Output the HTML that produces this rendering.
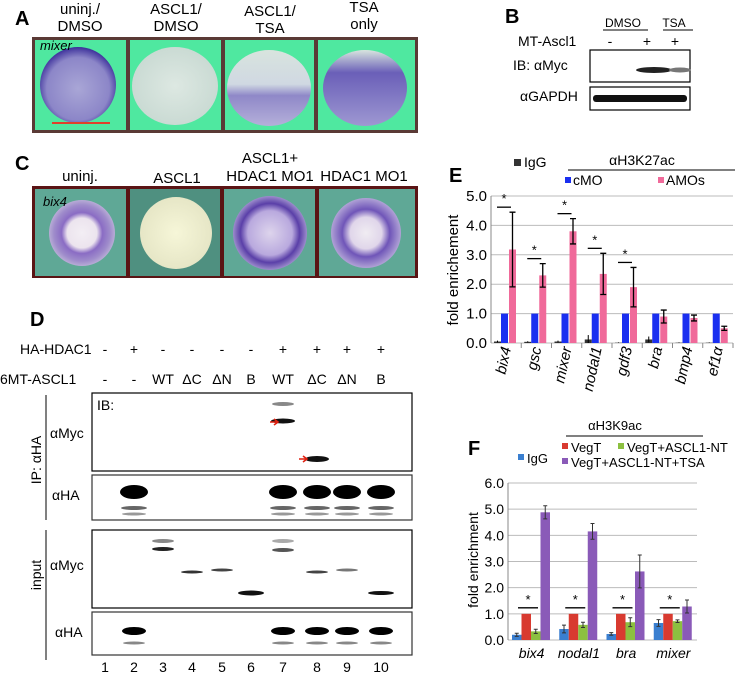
<!DOCTYPE html>
<html><head><meta charset="utf-8"><style>
body{margin:0;background:#fff;}
svg{display:block;font-family:"Liberation Sans",Arial,sans-serif;}
</style></head><body>
<svg id="fig" width="742" height="677" viewBox="0 0 742 677" xmlns="http://www.w3.org/2000/svg">
<defs>
<radialGradient id="embA1" cx="50%" cy="55%" r="55%"><stop offset="0" stop-color="#a9a6d6"/><stop offset="0.75" stop-color="#8c86c8"/><stop offset="1" stop-color="#3b2f9a"/></radialGradient>
<radialGradient id="embA2" cx="50%" cy="50%" r="55%"><stop offset="0" stop-color="#dde8e2"/><stop offset="1" stop-color="#c8d9d2"/></radialGradient>
<linearGradient id="embA3" x1="0" y1="0" x2="0" y2="1"><stop offset="0" stop-color="#d8e4de"/><stop offset="0.45" stop-color="#d0d8e2"/><stop offset="0.6" stop-color="#8f88c8"/><stop offset="1" stop-color="#b5b0da"/></linearGradient>
<linearGradient id="embA4" x1="0" y1="0" x2="0" y2="1"><stop offset="0" stop-color="#d8e4de"/><stop offset="0.3" stop-color="#6a5fb8"/><stop offset="1" stop-color="#9e98d2"/></linearGradient>
<radialGradient id="embC1" cx="50%" cy="50%" r="50%"><stop offset="0" stop-color="#f3eef4"/><stop offset="0.45" stop-color="#ece4ee"/><stop offset="0.62" stop-color="#8a6cc4"/><stop offset="0.85" stop-color="#9f8ccb"/><stop offset="1" stop-color="#b8acd6"/></radialGradient>
<radialGradient id="embC2" cx="50%" cy="50%" r="50%"><stop offset="0" stop-color="#f6f6d8"/><stop offset="1" stop-color="#e6e6c6"/></radialGradient>
<radialGradient id="embC3" cx="50%" cy="50%" r="50%"><stop offset="0" stop-color="#ddd4ec"/><stop offset="0.6" stop-color="#b9a9de"/><stop offset="0.8" stop-color="#5a3fa8"/><stop offset="1" stop-color="#9c8ccc"/></radialGradient>
<radialGradient id="embC4" cx="50%" cy="50%" r="50%"><stop offset="0" stop-color="#f0ecf2"/><stop offset="0.45" stop-color="#e0d6ea"/><stop offset="0.68" stop-color="#6f55b8"/><stop offset="1" stop-color="#b0a2d6"/></radialGradient>
</defs>

<!-- Panel A -->
<g>
<text x="15" y="25" font-size="20" font-weight="bold">A</text>
<g font-size="15" text-anchor="middle">
<text x="80" y="14">uninj./</text><text x="80" y="31">DMSO</text>
<text x="176" y="14">ASCL1/</text><text x="176" y="31">DMSO</text>
<text x="270" y="16">ASCL1/</text><text x="270" y="33">TSA</text>
<text x="364" y="12">TSA</text><text x="364" y="29">only</text>
</g>
<rect x="32" y="37" width="386" height="96" fill="#5a3a35"/>
<rect x="35" y="40" width="91" height="90" fill="#4fe8a0"/>
<rect x="130" y="40" width="91" height="90" fill="#4fe8a0"/>
<rect x="225" y="40" width="89" height="90" fill="#4fe8a0"/>
<rect x="318" y="40" width="97" height="90" fill="#4fe8a0"/>
<ellipse cx="78" cy="85" rx="38" ry="38" fill="url(#embA1)"/>
<ellipse cx="175" cy="86" rx="43" ry="39" fill="url(#embA2)"/>
<ellipse cx="269" cy="88" rx="42" ry="38" fill="url(#embA3)"/>
<ellipse cx="365" cy="88" rx="42" ry="38" fill="url(#embA4)"/>
<text x="40" y="50" font-size="13" font-style="italic">mixer</text>
<line x1="52" y1="123" x2="110" y2="123" stroke="#e0402a" stroke-width="2"/>
</g>

<!-- Panel B -->
<g>
<text x="505" y="23" font-size="20" font-weight="bold">B</text>
<text x="623" y="27" font-size="12" text-anchor="middle">DMSO</text>
<line x1="603" y1="30" x2="648" y2="30" stroke="#000"/>
<text x="674" y="27" font-size="12" text-anchor="middle">TSA</text>
<line x1="663" y1="30" x2="693" y2="30" stroke="#000"/>
<text x="518" y="46" font-size="14">MT-Ascl1</text>
<text x="610" y="46" font-size="14" text-anchor="middle">-</text>
<text x="647" y="46" font-size="14" text-anchor="middle">+</text>
<text x="675" y="46" font-size="14" text-anchor="middle">+</text>
<text x="513" y="70" font-size="14">IB:  αMyc</text>
<text x="520" y="101" font-size="14">αGAPDH</text>
<rect x="590" y="50" width="100" height="32" fill="#fff" stroke="#000" stroke-width="1.2"/>
<ellipse cx="654" cy="70" rx="18" ry="3" fill="#222"/>
<ellipse cx="680" cy="70" rx="11" ry="2.5" fill="#777"/>
<rect x="590" y="87" width="100" height="23" fill="#fff" stroke="#000" stroke-width="1.2"/>
<rect x="593" y="95" width="94" height="7" rx="3" fill="#111"/>
</g>

<!-- Panel C -->
<g>
<text x="15" y="170" font-size="20" font-weight="bold">C</text>
<g font-size="15" text-anchor="middle">
<text x="80" y="181">uninj.</text>
<text x="177" y="183">ASCL1</text>
<text x="270" y="163">ASCL1+</text><text x="270" y="181">HDAC1 MO1</text>
<text x="364" y="181">HDAC1 MO1</text>
</g>
<rect x="32" y="186" width="386" height="92" fill="#5a1414"/>
<rect x="35" y="189" width="91" height="87" fill="#5fa896"/>
<rect x="130" y="189" width="90" height="87" fill="#4f9080"/>
<rect x="224" y="189" width="91" height="87" fill="#5fa896"/>
<rect x="319" y="189" width="96" height="87" fill="#5fa896"/>
<circle cx="82" cy="233" r="33" fill="url(#embC1)"/>
<circle cx="176" cy="233" r="36" fill="url(#embC2)"/>
<circle cx="270" cy="233" r="37" fill="url(#embC3)"/>
<circle cx="366" cy="233" r="35" fill="url(#embC4)"/>
<text x="43" y="206" font-size="13" font-style="italic">bix4</text>
</g>

<!-- Panel D -->
<g font-size="14">
<text x="30" y="326" font-size="20" font-weight="bold">D</text>
<text x="20" y="354">HA-HDAC1</text>
<text x="0" y="384">6MT-ASCL1</text>
<g id="dRows" text-anchor="middle"></g>
<rect x="92" y="393" width="320" height="78" fill="#fff" stroke="#000" stroke-width="1.2"/>
<text x="97" y="410">IB:</text>
<text x="50" y="438">αMyc</text>
<rect x="92" y="475" width="320" height="45" fill="#fff" stroke="#333" stroke-width="1.2"/>
<text x="52" y="500">αHA</text>
<rect x="92" y="530" width="320" height="78" fill="#fff" stroke="#000" stroke-width="1.2"/>
<text x="50" y="570">αMyc</text>
<rect x="92" y="612" width="320" height="43" fill="#fff" stroke="#333" stroke-width="1.2"/>
<text x="55" y="637">αHA</text>
<line x1="46" y1="395" x2="46" y2="520" stroke="#000"/>
<line x1="46" y1="530" x2="46" y2="660" stroke="#000"/>
<text transform="translate(41 460) rotate(-90)" text-anchor="middle">IP: αHA</text>
<text transform="translate(41 575) rotate(-90)" text-anchor="middle">input</text>
<g id="bands"></g>
<path d="M270 422 l8 0 m-4 -3 l4 3 l-4 3" stroke="#e02010" stroke-width="1.6" fill="none"/>
<path d="M299 459 l8 0 m-4 -3 l4 3 l-4 3" stroke="#e02010" stroke-width="1.6" fill="none"/>
</g>

<!-- Panel E -->
<g id="chartE">
<text x="449" y="182" font-size="20" font-weight="bold">E</text>
<rect x="514" y="159" width="7" height="7" fill="#333"/><text x="524" y="167" font-size="14">IgG</text>
<text x="642" y="165" font-size="14" text-anchor="middle">αH3K27ac</text>
<line x1="568" y1="170" x2="735" y2="170" stroke="#000"/>
<rect x="565" y="177" width="6" height="6" fill="#1a2ff0"/><text x="573" y="185" font-size="14">cMO</text>
<rect x="658" y="177" width="6" height="6" fill="#f06a9a"/><text x="666" y="185" font-size="14">AMOs</text>
<text transform="translate(458 270) rotate(-90)" font-size="15" text-anchor="middle">fold enrichement</text>
</g>

<!-- Panel F -->
<g id="chartF">
<text x="468" y="455" font-size="20" font-weight="bold">F</text>
<text x="615" y="430" font-size="13" text-anchor="middle">αH3K9ac</text>
<line x1="566" y1="436" x2="703" y2="436" stroke="#000"/>
<rect x="518" y="454" width="6" height="6" fill="#3a7fd0"/><text x="527" y="463" font-size="13">IgG</text>
<rect x="562" y="443" width="6" height="6" fill="#d83a30"/><text x="571" y="452" font-size="13">VegT</text>
<rect x="618" y="443" width="6" height="6" fill="#8cc040"/><text x="627" y="452" font-size="13">VegT+ASCL1-NT</text>
<rect x="562" y="458" width="6" height="6" fill="#8a5ab8"/><text x="571" y="467" font-size="13">VegT+ASCL1-NT+TSA</text>
<text transform="translate(478 560) rotate(-90)" font-size="14" text-anchor="middle">fold enrichment</text>
</g>
</svg>
<script>
var NS="http://www.w3.org/2000/svg";
function mk(p,t,a,txt){var e=document.createElementNS(NS,t);for(var k in a)e.setAttribute(k,a[k]);if(txt!==undefined)e.textContent=txt;p.appendChild(e);return e;}

// Panel D rows
var laneHA=["-","+","-","-","-","-","+","+","+","+"];
var laneASCL=["-","-","WT","ΔC","ΔN","B","WT","ΔC","ΔN","B"];
var laneNums=["1","2","3","4","5","6","7","8","9","10"];
var laneX=[105,134,163,192,222,251,283,317,347,381];
var dr=document.getElementById("dRows");
for(var i=0;i<10;i++){
 var t=mk(dr,"text",{x:laneX[i],y:354},laneHA[i]);
 
 
 var t2=mk(dr,"text",{x:laneX[i],y:384},laneASCL[i]);
 
 
 var t3=mk(dr,"text",{x:laneX[i],y:672},laneNums[i]);
 
 
}
var bg=document.getElementById("bands");
function band(l,y,w,h,c){var b=mk(bg,"ellipse",{cx:laneX[l],cy:y,rx:w,ry:h,fill:c});}
band(6,404,11,2,"#888");band(6,421,12,2.5,"#111");band(7,459,12,3,"#111");
[1,6,7,8,9].forEach(function(l){band(l,492,14,7,"#000");band(l,508,13,2,"#666");band(l,514,12,1.5,"#999");});
band(2,541,11,2,"#888");band(2,549,11,2,"#222");band(6,541,11,2,"#aaa");band(6,550,11,2,"#555");
band(3,572,11,1.5,"#333");band(4,570,11,1.5,"#444");band(5,593,13,2.5,"#111");band(7,572,11,1.5,"#444");band(8,570,11,1.5,"#777");band(9,593,13,2,"#111");
[1,6,7,8,9].forEach(function(l){band(l,631,12,4,"#000");band(l,643,11,1.5,"#888");});

// Panel E data
var eCats=["bix4","gsc","mixer","nodal1","gdf3","bra","bmp4","ef1α"];
var eIgG=[0.05,0.04,0.05,0.12,0.01,0.12,0.01,0.01];
var eIgGErr=[0.03,0.02,0.03,0.15,0.01,0.1,0.01,0.01];
var eCMO=[1,1,1,1,1,1,1,1];
var eAMO=[3.18,2.3,3.8,2.35,1.9,0.9,0.85,0.5];
var eAMOErr=[1.27,0.4,0.43,0.7,0.67,0.22,0.1,0.07];
var eSig=[1,1,1,1,1,0,0,0];
var eTicks=["0.0","1.0","2.0","3.0","4.0","5.0"];
(function(){
 var g=document.getElementById("chartE");
 var x0=491,x1=733,y0=343,y1=196,ymax=5;
 function Y(v){return y0-(v/ymax)*(y0-y1);}
 var cw=(x1-x0)/eCats.length;
 for(var i=0;i<eTicks.length;i++){var v=parseFloat(eTicks[i]);
  var l=mk(g,"line",{x1:x0,x2:x1,y1:Y(v),y2:Y(v),stroke:"#bbb"});
  var t=mk(g,"text",{x:x0-4,y:Y(v)+5,"font-size":15,"text-anchor":"end"},eTicks[i]);}
 mk(g,"line",{x1:x0,x2:x0,y1:y1,y2:y0,stroke:"#888"});
 for(var i=0;i<eCats.length;i++){
  var cx=x0+cw*i, bw=7;
  mk(g,"line",{x1:cx+cw,x2:cx+cw,y1:y0,y2:y0+5,stroke:"#888"});
  var b0=mk(g,"rect",{x:cx+3,y:Y(eIgG[i]),width:bw,height:y0-Y(eIgG[i]),fill:"#333"});
  mk(g,"line",{x1:cx+6.5,x2:cx+6.5,y1:Y(eIgG[i]+eIgGErr[i]),y2:Y(Math.max(0,eIgG[i]-eIgGErr[i])),stroke:"#000"});
  var b1=mk(g,"rect",{x:cx+10,y:Y(eCMO[i]),width:bw,height:y0-Y(eCMO[i]),fill:"#1a2ff0"});
  var b2=mk(g,"rect",{x:cx+18,y:Y(eAMO[i]),width:bw,height:y0-Y(eAMO[i]),fill:"#f06a9a"});
  var ex=cx+21.5,hi=Y(eAMO[i]+eAMOErr[i]),lo=Y(eAMO[i]-eAMOErr[i]);
  mk(g,"path",{d:"M"+ex+" "+hi+"V"+lo+"M"+(ex-3)+" "+hi+"h6M"+(ex-3)+" "+lo+"h6",stroke:"#000","stroke-width":1.3,fill:"none"});
  if(eSig[i]){var sy=Y(eAMO[i]+eAMOErr[i])-5;mk(g,"line",{x1:cx+6,x2:cx+20,y1:sy,y2:sy,stroke:"#000","stroke-width":1.3});mk(g,"text",{x:cx+13,y:sy-4,"font-size":13,"text-anchor":"middle"},"*");}
  var lt=mk(g,"text",{transform:"translate("+(cx+cw/2+5)+" "+(y0+5)+") rotate(-78)","font-size":15,"font-style":"italic","text-anchor":"end"},eCats[i]);
 }
})();

// Panel F data
var fCats=["bix4","nodal1","bra","mixer"];
var fIgG=[0.2,0.42,0.23,0.65];
var fIgGErr=[0.06,0.15,0.05,0.13];
var fVegT=[1,1,1,1];
var fNT=[0.33,0.58,0.68,0.72];
var fNTErr=[0.08,0.1,0.17,0.05];
var fTSA=[4.88,4.15,2.62,1.28];
var fTSAErr=[0.25,0.3,0.63,0.25];
var fTicks=["0.0","1.0","2.0","3.0","4.0","5.0","6.0"];
(function(){
 var g=document.getElementById("chartF");
 var x0=508,x1=697,y0=640,y1=483,ymax=6;
 function Y(v){return y0-(v/ymax)*(y0-y1);}
 var cw=(x1-x0)/fCats.length;
 for(var i=0;i<fTicks.length;i++){var v=parseFloat(fTicks[i]);
  var l=mk(g,"line",{x1:x0,x2:x1,y1:Y(v),y2:Y(v),stroke:"#bbb"});
  var t=mk(g,"text",{x:x0-4,y:Y(v)+5,"font-size":14,"text-anchor":"end"},fTicks[i]);}
 mk(g,"line",{x1:x0,x2:x0,y1:y1,y2:y0,stroke:"#888"});
 var cols=["#3a7fd0","#d83a30","#8cc040","#8a5ab8"];
 for(var i=0;i<fCats.length;i++){
  var cx=x0+cw*i+4,bw=9.5;
  var vals=[fIgG[i],fVegT[i],fNT[i],fTSA[i]],errs=[fIgGErr[i],0,fNTErr[i],fTSAErr[i]];
  for(var s=0;s<4;s++){
   var r=mk(g,"rect",{x:cx+s*bw,y:Y(vals[s]),width:bw,height:y0-Y(vals[s]),fill:cols[s]});
   
   
   if(errs[s]>0){var ex=cx+s*bw+bw/2,hi=Y(vals[s]+errs[s]),lo=Y(vals[s]-errs[s]);
    mk(g,"path",{d:"M"+ex+" "+hi+"V"+lo+"M"+(ex-2)+" "+hi+"h4M"+(ex-2)+" "+lo+"h4",stroke:"#333",fill:"none"});}
  }
  var sy=Y(1)-6;mk(g,"line",{x1:cx+6,x2:cx+26,y1:sy,y2:sy,stroke:"#000","stroke-width":1.3});
  mk(g,"text",{x:cx+16,y:sy-4,"font-size":13,"text-anchor":"middle"},"*");
  var lt=mk(g,"text",{x:x0+cw*i+cw/2,y:y0+18,"font-size":14,"font-style":"italic","text-anchor":"middle"},fCats[i]);
  
  
 }
})();
</script>
</body></html>
